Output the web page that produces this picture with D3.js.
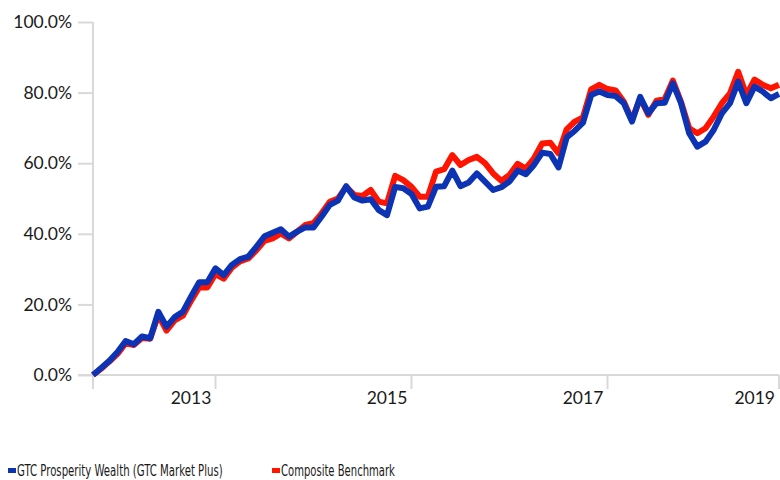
<!DOCTYPE html>
<html>
<head>
<meta charset="utf-8">
<script src="https://cdn.jsdelivr.net/npm/d3@7"></script>
<style>
  body { margin: 0; background: #fff; }
  svg { display: block; }
</style>
</head>
<body>
<svg id="chart" width="780" height="480"></svg>
<script>
// monthly points, Jan 2012 .. Jan 2019
const months = d3.timeMonth.range(new Date(2012, 0, 1), new Date(2019, 1, 1));

const fund = [0, 2.0, 4.0, 6.5, 9.6, 8.7, 10.9, 10.4, 17.9, 13.7, 16.4, 17.9, 22.2, 26.3, 26.3, 30.2, 28.3, 31.2, 32.8, 33.5, 36.3,
  39.3, 40.3, 41.3, 39.2, 40.6, 41.8, 41.8, 44.9, 48.2, 49.4, 53.5, 50.3, 49.4, 49.8, 46.7, 45.3, 53.3, 52.9, 51.3, 47.2, 47.7,
  53.3, 53.5, 57.9, 53.5, 54.5, 57.1, 54.8, 52.4, 53.2, 54.8, 57.9, 56.9, 59.5, 63.0, 62.6, 58.8, 67.3, 69.2, 71.5, 79.3, 80.3,
  79.3, 79.0, 77.0, 71.8, 78.8, 74.1, 77.0, 77.1, 82.6, 77.0, 68.5, 64.7, 66.1, 69.4, 74.1, 77.0, 83.1, 77.0, 81.7, 80.3, 78.4, 79.6];

const benchmark = [0, 1.8, 3.8, 6.0, 9.0, 8.5, 10.5, 10.3, 17.0, 12.6, 15.5, 16.8, 21.0, 24.8, 24.8, 28.6, 27.3, 30.4, 32.2, 33.0, 35.3,
  38.0, 38.7, 40.1, 38.7, 40.6, 42.5, 43.0, 45.8, 49.1, 50.0, 53.3, 51.0, 50.7, 52.4, 49.1, 48.6, 56.4, 55.2, 53.3, 50.5, 50.5,
  57.6, 58.3, 62.3, 59.5, 60.9, 61.8, 60.0, 57.1, 55.0, 56.7, 59.8, 58.5, 61.4, 65.6, 65.8, 62.8, 69.6, 71.8, 73.0, 80.9, 82.2,
  81.0, 80.6, 77.4, 72.2, 78.4, 73.7, 77.7, 78.1, 83.4, 77.4, 69.9, 68.5, 69.9, 73.2, 77.0, 79.8, 85.9, 79.3, 83.7, 82.2, 81.2, 82.2];

const yTicks = [0, 20, 40, 60, 80, 100];
// tick marks and year labels on the category axis (month index)
const xTickIdx = [0, 15, 39, 63, 84];
const xLabels = [[12, '2013'], [36, '2015'], [60, '2017'], [84, '2019']];

const seriesNames = ['GTC Prosperity Wealth (GTC Market Plus)', 'Composite Benchmark'];
const colors = ['#0d33b5', '#ff1400'];

const svg = d3.select('#chart');
const gray = '#d9d9d9';
const font = 'Lato, "Open Sans", sans-serif';

const x = d3.scalePoint().domain(d3.range(months.length)).range([93, 779]);
const y = d3.scaleLinear().domain([0, 100]).range([375, 22]);

// y axis
const yAxis = svg.append('g').attr('transform', 'translate(93,0)')
  .call(d3.axisLeft(y).tickValues(yTicks).tickSize(15).tickPadding(6).tickFormat(d => d.toFixed(1) + '%'));
yAxis.select('.domain').attr('stroke', gray).attr('stroke-width', 2).attr('d', `M0,${y(100)}V${y(0)}`);
yAxis.selectAll('.tick line').attr('stroke', gray).attr('stroke-width', 2);
yAxis.selectAll('.tick text').attr('font-family', font).attr('font-size', 17.5).attr('fill', '#1a1a1a');

// x axis
const xg = svg.append('g');
xg.append('line').attr('x1', 78).attr('x2', 779).attr('y1', y(0)).attr('y2', y(0))
  .attr('stroke', gray).attr('stroke-width', 2);
xg.selectAll('line.tick').data(xTickIdx).join('line').attr('class', 'tick')
  .attr('x1', d => x(d)).attr('x2', d => x(d)).attr('y1', y(0)).attr('y2', y(0) + 14)
  .attr('stroke', gray).attr('stroke-width', 2);
xg.selectAll('text').data(xLabels).join('text')
  .attr('x', (d, i) => i === xLabels.length - 1 ? x(d[0]) - 4 : x(d[0]))
  .attr('y', 404)
  .attr('text-anchor', (d, i) => i === xLabels.length - 1 ? 'end' : 'middle')
  .attr('font-family', font).attr('font-size', 17.5).attr('fill', '#1a1a1a')
  .text(d => d[1]);

// lines: benchmark below, fund on top
const line = d3.line().x((d, i) => x(i)).y(d => y(d));
[[benchmark, colors[1]], [fund, colors[0]]].forEach(([data, c]) => {
  svg.append('path').datum(data).attr('d', line)
    .attr('fill', 'none').attr('stroke', c).attr('stroke-width', 6)
    .attr('stroke-linejoin', 'round');
});

// legend (narrow text: squeeze horizontally with a transform)
const legend = svg.append('g');
const legX = [8, 272];
const legW = [206, 114];
seriesNames.forEach((name, i) => {
  legend.append('rect').attr('x', legX[i]).attr('y', 468).attr('width', 8).attr('height', 5).attr('fill', colors[i]);
  const t = legend.append('text').attr('x', 0).attr('y', 0)
    .attr('font-family', '"DejaVu Sans Condensed", "Open Sans", sans-serif').attr('font-size', 16)
    .attr('fill', '#1a1a1a').text(name);
  const w = t.node().getComputedTextLength();
  t.attr('transform', `translate(${legX[i] + 9},476) scale(${legW[i] / w},1)`);
});
</script>
</body>
</html>
